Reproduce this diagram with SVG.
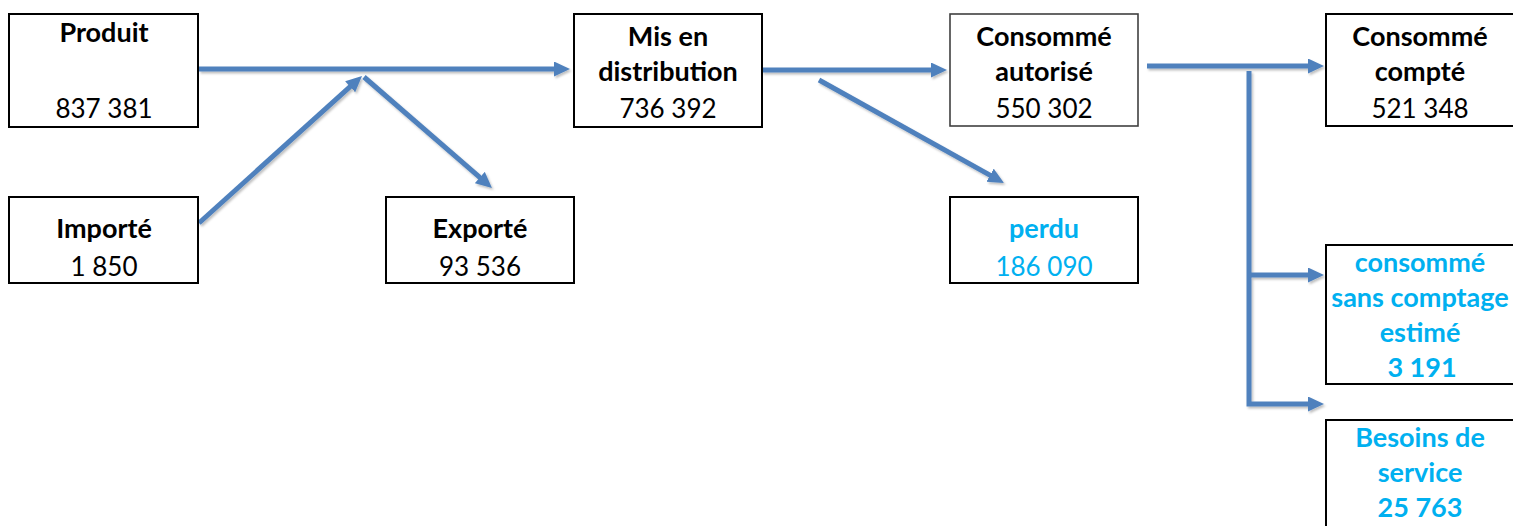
<svg xmlns="http://www.w3.org/2000/svg" width="1513" height="526" viewBox="0 0 1513 526">
<style>
.box{fill:#fff;stroke:#000;stroke-width:2}
.box2{fill:#fff;stroke:#404040;stroke-width:1.6}
text{font-family:Lato,"Open Sans","Liberation Sans",sans-serif;font-size:26px;text-anchor:middle;fill:#000}
.b{font-weight:bold;font-size:27px}
.cy{fill:#00B0F0}
.con{fill:none;stroke:#4F81BD;stroke-width:5;marker-end:url(#ah)}
</style>
<defs>
<marker id="ah" markerUnits="userSpaceOnUse" markerWidth="18" markerHeight="16" refX="6" refY="7.5" orient="auto">
<path d="M0,0 L16,7.5 L0,15 z" fill="#4F81BD"/>
</marker>
<filter id="sh" filterUnits="userSpaceOnUse" x="0" y="0" width="1513" height="526">
<feDropShadow dx="1.5" dy="2" stdDeviation="1.2" flood-color="#000" flood-opacity="0.25"/>
</filter>
</defs>
<rect width="1513" height="526" fill="#fff"/>

<g id="connectors" filter="url(#sh)">
<line class="con" x1="199" y1="69" x2="560" y2="69"/>
<line class="con" x1="199" y1="223" x2="354.6" y2="82.7"/>
<line class="con" x1="364" y1="77" x2="484.4" y2="181.4"/>
<line class="con" x1="762" y1="70" x2="937" y2="70"/>
<line class="con" x1="819" y1="80" x2="995.3" y2="178.1"/>
<line class="con" x1="1147" y1="66" x2="1314" y2="66"/>
<polyline class="con" points="1249,71 1249,404 1314,404"/>
<line class="con" x1="1249" y1="275" x2="1314" y2="275"/>
</g>

<g id="produit">
<rect class="box" x="9" y="14" width="189" height="113"/>
<text class="b" x="104" y="42">Produit</text>
<text x="104" y="118">837 381</text>
</g>

<g id="importe">
<rect class="box" x="9" y="197" width="189" height="86"/>
<text class="b" x="104" y="238">Importé</text>
<text x="104" y="276">1 850</text>
</g>

<g id="exporte">
<rect class="box" x="386" y="197" width="188" height="86"/>
<text class="b" x="480" y="238">Exporté</text>
<text x="480" y="276">93 536</text>
</g>

<g id="mis-en-distribution">
<rect class="box" x="574" y="14" width="188" height="113"/>
<text class="b" x="668" y="46">Mis en</text>
<text class="b" x="668" y="81">distribution</text>
<text x="668" y="118">736 392</text>
</g>

<g id="consomme-autorise">
<rect class="box2" x="950" y="14" width="188" height="112"/>
<text class="b" x="1044" y="46">Consommé</text>
<text class="b" x="1044" y="81">autorisé</text>
<text x="1044" y="118">550 302</text>
</g>

<g id="perdu">
<rect class="box" x="950" y="197" width="188" height="86"/>
<text class="b cy" x="1044" y="238">perdu</text>
<text class="cy" x="1044" y="276">186 090</text>
</g>

<g id="consomme-compte">
<rect class="box" x="1326" y="14" width="188" height="112"/>
<text class="b" x="1420" y="46">Consommé</text>
<text class="b" x="1420" y="81">compté</text>
<text x="1420" y="118">521 348</text>
</g>

<g id="consomme-sans-comptage">
<rect class="box" x="1326" y="245" width="188" height="139"/>
<text class="b cy" x="1420" y="272">consommé</text>
<text class="b cy" x="1420" y="307">sans comptage</text>
<text class="b cy" x="1420" y="342">estimé</text>
<text class="b cy" x="1422" y="377">3 191</text>
</g>

<g id="besoins-de-service">
<rect class="box" x="1326" y="420" width="188" height="110"/>
<text class="b cy" x="1420" y="447">Besoins de</text>
<text class="b cy" x="1420" y="482">service</text>
<text class="b cy" x="1420" y="517">25 763</text>
</g>
</svg>
